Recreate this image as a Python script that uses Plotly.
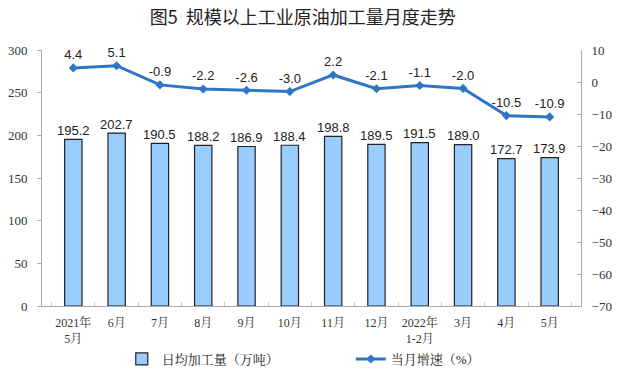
import plotly.graph_objects as go

categories = ["2021年<br>5月", "6月", "7月", "8月", "9月", "10月", "11月", "12月",
              "2022年<br>1-2月", "3月", "4月", "5月"]
daily_output = [195.2, 202.7, 190.5, 188.2, 186.9, 188.4, 198.8, 189.5, 191.5, 189.0, 172.7, 173.9]
growth = [4.4, 5.1, -0.9, -2.2, -2.6, -3.0, 2.2, -2.1, -1.1, -2.0, -10.5, -10.9]
left_ticks = [0, 50, 100, 150, 200, 250, 300]
right_ticks = [10, 0, -10, -20, -30, -40, -50, -60, -70]

sans = "Liberation Sans, Arial, sans-serif"
serif = "Liberation Serif, Noto Serif CJK SC, Noto Sans CJK SC, serif"

fig = go.Figure()
fig.add_trace(go.Bar(
    x=categories, y=daily_output, name="日均加工量（万吨）",
    marker=dict(color="#99CCFF", line=dict(color="#222222", width=1.2)),
    width=0.4,
))
fig.add_trace(go.Scatter(
    x=categories, y=growth, name="当月增速（%）", yaxis="y2",
    mode="lines+markers+text",
    line=dict(color="#2E75C6", width=3),
    marker=dict(symbol="diamond", size=7, color="#2E75C6"),
    text=[f"{v:.1f}" for v in growth], textposition="top center",
    textfont=dict(family=sans, size=13, color="#222222"),
    cliponaxis=False,
))

for c, v in zip(categories, daily_output):
    fig.add_annotation(x=c, y=v, xref="x", yref="y", text=f"{v:.1f}", showarrow=False,
                       yanchor="middle", yshift=9,
                       font=dict(family=sans, size=13, color="#222222"))

fig.update_layout(
    width=618, height=373,
    margin=dict(l=42, r=37, t=50, b=67, autoexpand=False),
    paper_bgcolor="white", plot_bgcolor="white",
    title=dict(text="图5  规模以上工业原油加工量月度走势", x=0.49, xanchor="center",
               y=0.952, yanchor="middle",
               font=dict(family="Noto Sans CJK SC, sans-serif", size=18, color="#222222")),
    showlegend=True,
    legend=dict(orientation="h", x=0.148, xanchor="left", y=-0.207, yanchor="middle",
                font=dict(family=serif, size=13, color="#222222"),
                entrywidth=184, traceorder="normal"),
    bargap=0.6,
    xaxis=dict(showline=True, linecolor="#AAAAAA", linewidth=1, ticks="inside",
               tickson="boundaries", ticklen=4, tickcolor="#CCCCCC", automargin=False,
               ticklabelstandoff=6, tickangle=0,
               tickfont=dict(family=serif, size=12, color="#333333"), showgrid=False),
    yaxis=dict(range=[0, 300], tickvals=left_ticks, showline=True, linecolor="#AAAAAA",
               ticks="outside", ticklen=4, tickcolor="#AAAAAA", showgrid=False, zeroline=False,
               automargin=False, ticklabelstandoff=7,
               tickfont=dict(family=serif, size=13, color="#333333")),
    yaxis2=dict(range=[-70, 10], tickvals=right_ticks, overlaying="y", side="right",
                showline=True, linecolor="#AAAAAA", ticks="inside", ticklen=4,
                tickcolor="#AAAAAA", showgrid=False, zeroline=False, automargin=False,
                ticklabelstandoff=7,
                tickfont=dict(family=serif, size=13, color="#333333")),
)

fig.write_html("out.html", config={"displayModeBar": False},
               post_script="document.body.style.margin='0';document.body.style.padding='0';")
